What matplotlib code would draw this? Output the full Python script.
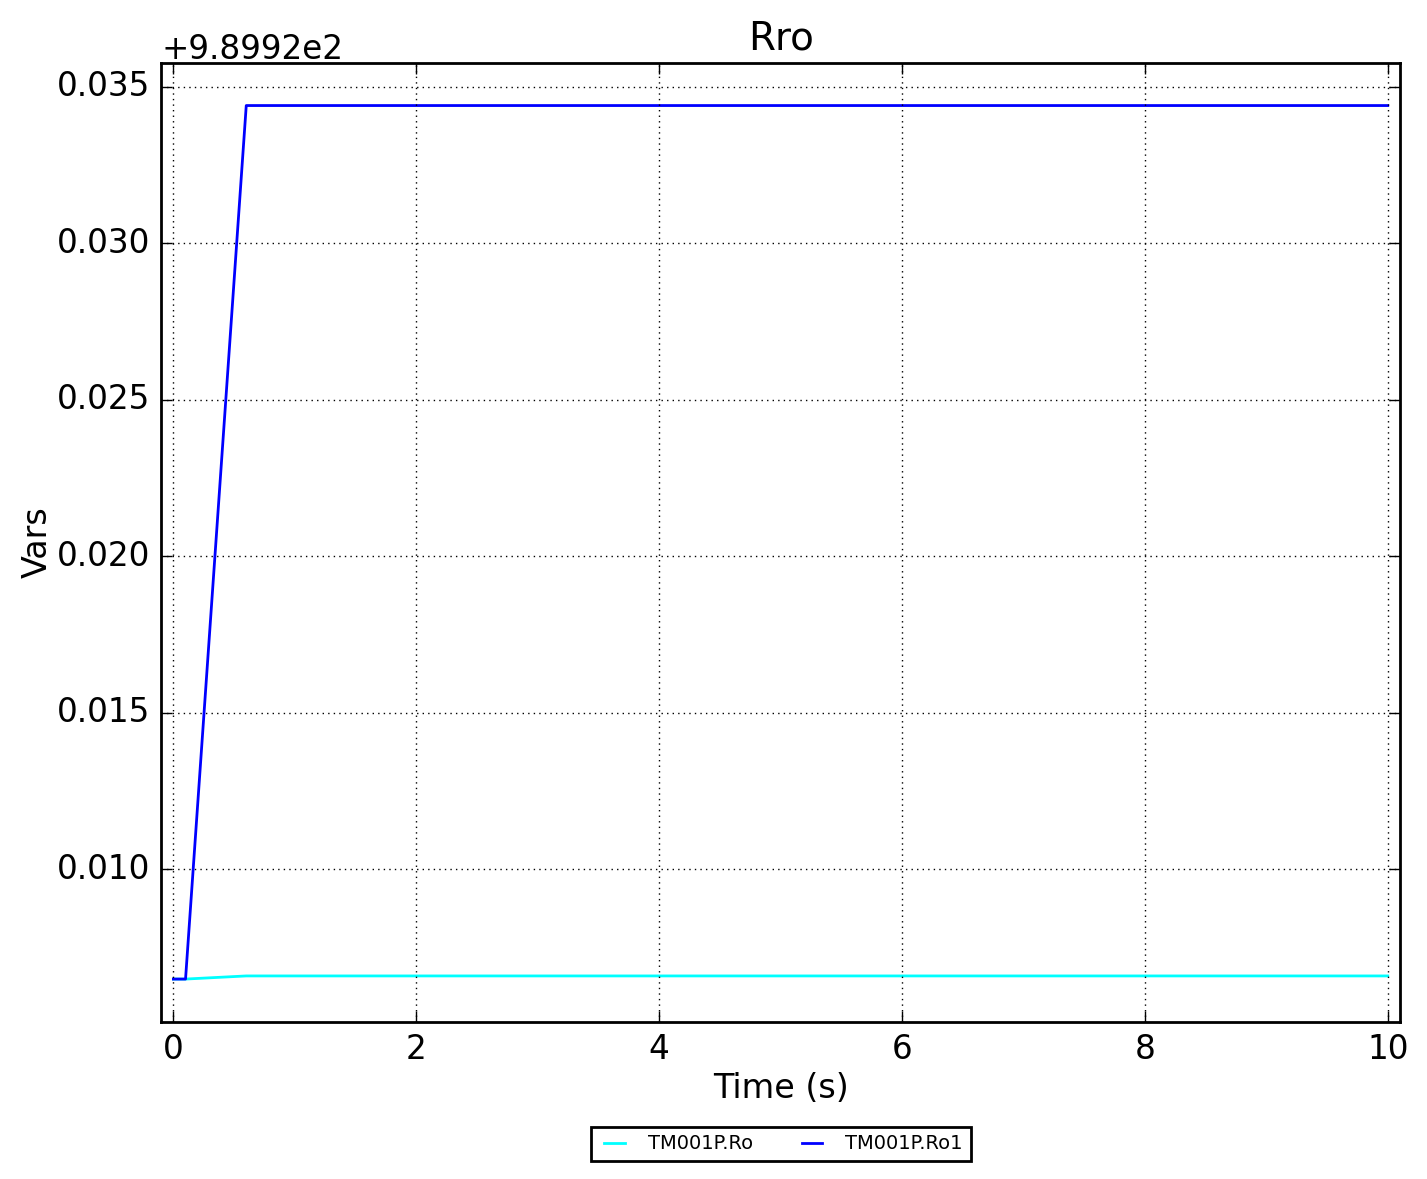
import numpy as np
import matplotlib
matplotlib.use("Agg")
import matplotlib.pyplot as plt

plt.style.use("classic")

# data (values are 989.92 + small offsets)
BASE = 989.92
t_ro = [0.0, 0.1, 0.6, 10.0]
ro = [0.0065, 0.0065, 0.0066, 0.0066]
t_ro1 = [0.0, 0.1, 0.6, 10.0]
ro1 = [0.0065, 0.0065, 0.0344, 0.0344]

fig = plt.figure(figsize=(14.27, 11.79), dpi=100, facecolor="white")
ax = fig.add_axes([0.113, 0.1332, 0.868, 0.8134])

ax.plot(t_ro, BASE + np.array(ro), color="cyan", lw=2, label="TM001P.Ro")
ax.plot(t_ro1, BASE + np.array(ro1), color="blue", lw=2, label="TM001P.Ro1")

ax.set_xlim(-0.1, 10.1)
ax.set_ylim(BASE + 0.00513, BASE + 0.03576)
ax.set_xticks([0, 2, 4, 6, 8, 10])
ax.set_yticks(BASE + np.array([0.010, 0.015, 0.020, 0.025, 0.030, 0.035]))
fmt = ax.yaxis.get_major_formatter()
fmt.set_useOffset(BASE)
ax.yaxis.get_offset_text().set_fontsize(23.5)
ax.tick_params(labelsize=23.5, length=8, width=1, pad=8)
ax.grid(True, color="black", linestyle=":", lw=1)
for s in ax.spines.values():
    s.set_linewidth(2)

ax.set_title("Rro", fontsize=28, pad=10)
ax.set_xlabel("Time (s)", fontsize=24, labelpad=4)
ax.set_ylabel("Vars", fontsize=24, labelpad=2)

leg = fig.legend(loc="center", bbox_to_anchor=(0.547, 0.0297), ncol=2,
                 fontsize=14, frameon=True, handlelength=1.65,
                 handletextpad=0.9, columnspacing=2.2)
leg.get_frame().set_linewidth(2)

fig.savefig("out.png", dpi=100, facecolor="white")
